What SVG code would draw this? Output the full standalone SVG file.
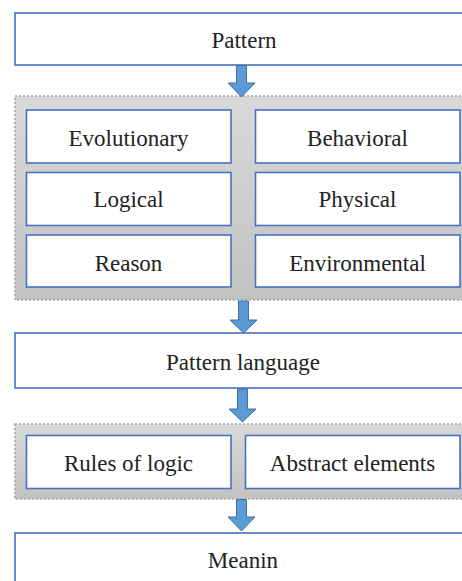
<svg xmlns="http://www.w3.org/2000/svg" width="462" height="581" viewBox="0 0 462 581">
<defs>
<linearGradient id="grp" x1="0" y1="0" x2="0" y2="1">
<stop offset="0" stop-color="#D9D9D9"/>
<stop offset="1" stop-color="#C2C2C2"/>
</linearGradient>
<style>
.box{fill:#FFFFFF;stroke:#4472C4;stroke-width:1.6}
.grp{fill:url(#grp);stroke:#A6A6A6;stroke-width:1.6;stroke-dasharray:2 2}
.arr{fill:#5B9BD5;stroke:#41719C;stroke-width:1}
</style>
</defs>
<rect width="462" height="581" fill="#FFFFFF"/>
<g font-family="Liberation Serif, Times New Roman, serif" font-size="23" fill="#222222" text-anchor="middle">
<g id="pattern"><rect class="box" x="15" y="13" width="460" height="52"/><text x="244" y="48">Pattern</text></g>
<g id="group1">
<rect class="grp" x="15" y="96" width="460" height="204"/>
<g id="evolutionary"><rect class="box" x="26.5" y="110" width="204.5" height="53"/><text x="128.5" y="146">Evolutionary</text></g>
<g id="behavioral"><rect class="box" x="255.5" y="110" width="204.5" height="53"/><text x="357.5" y="146">Behavioral</text></g>
<g id="logical"><rect class="box" x="26.5" y="172.5" width="204.5" height="53"/><text x="128.5" y="207">Logical</text></g>
<g id="physical"><rect class="box" x="255.5" y="172.5" width="204.5" height="53"/><text x="357.5" y="207">Physical</text></g>
<g id="reason"><rect class="box" x="26.5" y="235" width="204.5" height="52"/><text x="128.5" y="270.5">Reason</text></g>
<g id="environmental"><rect class="box" x="255.5" y="235" width="204.5" height="52"/><text x="357.5" y="270.5">Environmental</text></g>
</g>
<g id="pattern-language"><rect class="box" x="15" y="333" width="460" height="55"/><text x="243" y="370">Pattern language</text></g>
<g id="group2">
<rect class="grp" x="15" y="424" width="460" height="75"/>
<g id="rules"><rect class="box" x="26.5" y="435.5" width="204.5" height="53"/><text x="128.5" y="470.5">Rules of logic</text></g>
<g id="abstract"><rect class="box" x="245.5" y="435.5" width="214.5" height="53"/><text x="352.5" y="470.5">Abstract elements</text></g>
</g>
<g id="meanin"><rect class="box" x="15" y="533" width="460" height="60"/><text x="243" y="568">Meanin</text></g>
</g>
<g id="connectors">
<path class="arr" d="M236.5 65.5H246.5V83H255L241.5 97L228 83H236.5Z"/>
<path class="arr" d="M238.5 301H248.5V320H257L243.5 333L230 320H238.5Z"/>
<path class="arr" d="M237.5 389H247.5V409H256L242.5 422L229 409H237.5Z"/>
<path class="arr" d="M236.5 499.5H246.5V517H255L241.5 531L228 517H236.5Z"/>
</g>
</svg>
